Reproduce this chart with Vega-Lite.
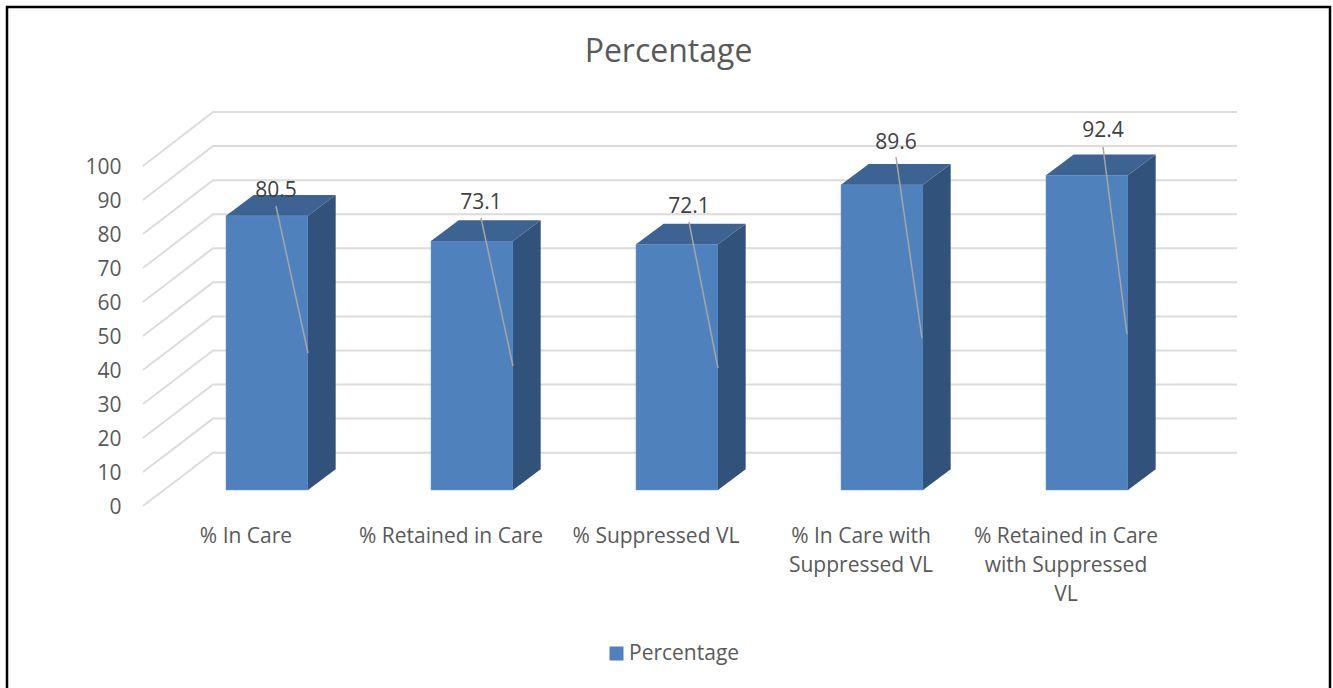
{
"$schema":"https://vega.github.io/schema/vega-lite/v6.json",
"width":1323,"height":684,
"autosize":{"type":"none"},
"padding":{"left":7,"top":7,"right":3,"bottom":0},
"background":"#ffffff",
"view":{"stroke":"#000000","strokeWidth":2.5,"fill":"#ffffff"},
"title":{"text":"Percentage","font":"Open Sans","fontSize":32,"fontWeight":"normal","color":"#595959","anchor":"middle","frame":"group","baseline":"middle","offset":-77},
"config":{"font":"Open Sans"},
"datasets":{
"bars":[
{"category":"% In Care","value":80.5,"series":"Percentage"},
{"category":"% Retained in Care","value":73.1,"series":"Percentage"},
{"category":"% Suppressed VL","value":72.1,"series":"Percentage"},
{"category":"% In Care with Suppressed VL","value":89.6,"series":"Percentage"},
{"category":"% Retained in Care with Suppressed VL","value":92.4,"series":"Percentage"}
],
"grid":[
{"g":0,"along":0.3951,"level":-4.7},{"g":0,"along":0.7366,"level":10.95},{"g":0,"along":5.7317,"level":10.95},
{"g":10,"along":0.3951,"level":5.28},{"g":10,"along":0.7366,"level":20.95},{"g":10,"along":5.7317,"level":20.95},
{"g":20,"along":0.3951,"level":15.26},{"g":20,"along":0.7366,"level":30.95},{"g":20,"along":5.7317,"level":30.95},
{"g":30,"along":0.3951,"level":25.24},{"g":30,"along":0.7366,"level":40.95},{"g":30,"along":5.7317,"level":40.95},
{"g":40,"along":0.3951,"level":35.22},{"g":40,"along":0.7366,"level":50.95},{"g":40,"along":5.7317,"level":50.95},
{"g":50,"along":0.3951,"level":45.2},{"g":50,"along":0.7366,"level":60.95},{"g":50,"along":5.7317,"level":60.95},
{"g":60,"along":0.3951,"level":55.18},{"g":60,"along":0.7366,"level":70.95},{"g":60,"along":5.7317,"level":70.95},
{"g":70,"along":0.3951,"level":65.16},{"g":70,"along":0.7366,"level":80.95},{"g":70,"along":5.7317,"level":80.95},
{"g":80,"along":0.3951,"level":75.14},{"g":80,"along":0.7366,"level":90.95},{"g":80,"along":5.7317,"level":90.95},
{"g":90,"along":0.3951,"level":85.12},{"g":90,"along":0.7366,"level":100.95},{"g":90,"along":5.7317,"level":100.95},
{"g":100,"along":0.3951,"level":95.1},{"g":100,"along":0.7366,"level":110.95},{"g":100,"along":5.7317,"level":110.95}
],
"side":[
{"bar":1,"along":1.2,"level":80.5,"level2":0},{"bar":1,"along":1.335,"level":86.58,"level2":6.08},
{"bar":2,"along":2.2,"level":73.1,"level2":0},{"bar":2,"along":2.335,"level":79.18,"level2":6.08},
{"bar":3,"along":3.2,"level":72.1,"level2":0},{"bar":3,"along":3.335,"level":78.18,"level2":6.08},
{"bar":4,"along":4.2,"level":89.6,"level2":0},{"bar":4,"along":4.335,"level":95.68,"level2":6.08},
{"bar":5,"along":5.2,"level":92.4,"level2":0},{"bar":5,"along":5.335,"level":98.48,"level2":6.08}
],
"top":[
{"bar":1,"along":0.8,"level":80.5,"level2":80.5},{"bar":1,"along":0.935,"level":86.58,"level2":80.5},{"bar":1,"along":1.2,"level":86.58,"level2":80.5},{"bar":1,"along":1.335,"level":86.58,"level2":86.58},
{"bar":2,"along":1.8,"level":73.1,"level2":73.1},{"bar":2,"along":1.935,"level":79.18,"level2":73.1},{"bar":2,"along":2.2,"level":79.18,"level2":73.1},{"bar":2,"along":2.335,"level":79.18,"level2":79.18},
{"bar":3,"along":2.8,"level":72.1,"level2":72.1},{"bar":3,"along":2.935,"level":78.18,"level2":72.1},{"bar":3,"along":3.2,"level":78.18,"level2":72.1},{"bar":3,"along":3.335,"level":78.18,"level2":78.18},
{"bar":4,"along":3.8,"level":89.6,"level2":89.6},{"bar":4,"along":3.935,"level":95.68,"level2":89.6},{"bar":4,"along":4.2,"level":95.68,"level2":89.6},{"bar":4,"along":4.335,"level":95.68,"level2":95.68},
{"bar":5,"along":4.8,"level":92.4,"level2":92.4},{"bar":5,"along":4.935,"level":98.48,"level2":92.4},{"bar":5,"along":5.2,"level":98.48,"level2":92.4},{"bar":5,"along":5.335,"level":98.48,"level2":98.48}
],
"callouts":[
{"value":"80.5","labelAlong":1.0439,"labelLevel":88.35,"startAlong":1.0439,"startLevel":83.36,"tipAlong":1.2,"tipLevel":40.21},
{"value":"73.1","labelAlong":2.0439,"labelLevel":84.83,"startAlong":2.0439,"startLevel":79.84,"tipAlong":2.2,"tipLevel":36.4},
{"value":"72.1","labelAlong":3.0585,"labelLevel":83.65,"startAlong":3.0585,"startLevel":78.66,"tipAlong":3.2,"tipLevel":35.81},
{"value":"89.6","labelAlong":4.0683,"labelLevel":102.44,"startAlong":4.0683,"startLevel":97.74,"tipAlong":4.195,"tipLevel":44.61},
{"value":"92.4","labelAlong":5.078,"labelLevel":105.96,"startAlong":5.078,"startLevel":100.68,"tipAlong":5.195,"tipLevel":45.79}
]
},
"resolve":{"scale":{"x":"independent"}},
"layer":[
{"data":{"name":"grid"},
 "mark":{"type":"line","color":"#dcdcdc","strokeWidth":2,"interpolate":"linear"},
 "encoding":{
  "x":{"field":"along","type":"quantitative","scale":{"domain":[-0.2683,6.1854],"nice":false,"zero":false},"axis":null},
  "y":{"field":"level","type":"quantitative","scale":{"domain":[-59.0,141.77],"nice":false,"zero":false},
   "axis":{"title":null,"values":[0,10,20,30,40,50,60,70,80,90,100],"domain":false,"ticks":false,"tickSize":0,"grid":false,"labelPadding":0,"offset":-114,"labelOffset":18,"labelFontSize":21,"labelFont":"Open Sans","labelColor":"#595959","labelBound":false,"labelOverlap":false}},
  "detail":{"field":"g"}
 }},
{"data":{"name":"bars"},
 "mark":{"type":"bar","stroke":"#6f9bd1","strokeWidth":0.5},
 "encoding":{
  "x":{"field":"category","type":"nominal","sort":null,
   "scale":{"type":"band","range":[157.5,1182.5],"paddingInner":0.6,"paddingOuter":0.3},
   "axis":{"orient":"bottom","title":null,"offset":-166,"labelAngle":0,"domain":false,"ticks":false,"tickSize":0,"labelPadding":0,"labelOffset":-21,"labelFontSize":21,"labelFont":"Open Sans","labelColor":"#595959","labelBaseline":"top","labelLineHeight":29,"labelLimit":400,"labelOverlap":false,"labelBound":false,"labelFlush":false,
    "labelExpr":"datum.label == '% In Care with Suppressed VL' ? ['% In Care with','Suppressed VL'] : datum.label == '% Retained in Care with Suppressed VL' ? ['% Retained in Care','with Suppressed','VL'] : datum.label"}},
  "y":{"field":"value","type":"quantitative","stack":null},
  "color":{"field":"series","type":"nominal","scale":{"range":["#4f81bd"]},
   "legend":{"orient":"none","legendX":599,"legendY":636,"title":null,"symbolType":"square","symbolSize":196,"symbolStrokeWidth":0,"labelFontSize":21,"labelFont":"Open Sans","labelColor":"#595959","labelOffset":2,"padding":0}}
 }},
{"data":{"name":"side"},
 "mark":{"type":"area","color":"#31527a","interpolate":"linear"},
 "encoding":{
  "x":{"field":"along","type":"quantitative","scale":{"domain":[-0.2683,6.1854],"nice":false,"zero":false},"axis":null},
  "y":{"field":"level","type":"quantitative"},
  "y2":{"field":"level2"},
  "detail":{"field":"bar"}
 }},
{"data":{"name":"top"},
 "mark":{"type":"area","color":"#3c6392","interpolate":"linear"},
 "encoding":{
  "x":{"field":"along","type":"quantitative","scale":{"domain":[-0.2683,6.1854],"nice":false,"zero":false},"axis":null},
  "y":{"field":"level","type":"quantitative"},
  "y2":{"field":"level2"},
  "detail":{"field":"bar"}
 }},
{"data":{"name":"callouts"},
 "mark":{"type":"rule","color":"#a6a6a6","strokeWidth":1.5},
 "encoding":{
  "x":{"field":"startAlong","type":"quantitative","scale":{"domain":[-0.2683,6.1854],"nice":false,"zero":false},"axis":null},
  "y":{"field":"startLevel","type":"quantitative"},
  "x2":{"field":"tipAlong"},
  "y2":{"field":"tipLevel"}
 }},
{"data":{"name":"callouts"},
 "mark":{"type":"text","font":"Open Sans","fontSize":21,"color":"#404040","align":"center","baseline":"middle","dy":2},
 "encoding":{
  "x":{"field":"labelAlong","type":"quantitative","scale":{"domain":[-0.2683,6.1854],"nice":false,"zero":false},"axis":null},
  "y":{"field":"labelLevel","type":"quantitative"},
  "text":{"field":"value","type":"nominal"}
 }}
]
}
